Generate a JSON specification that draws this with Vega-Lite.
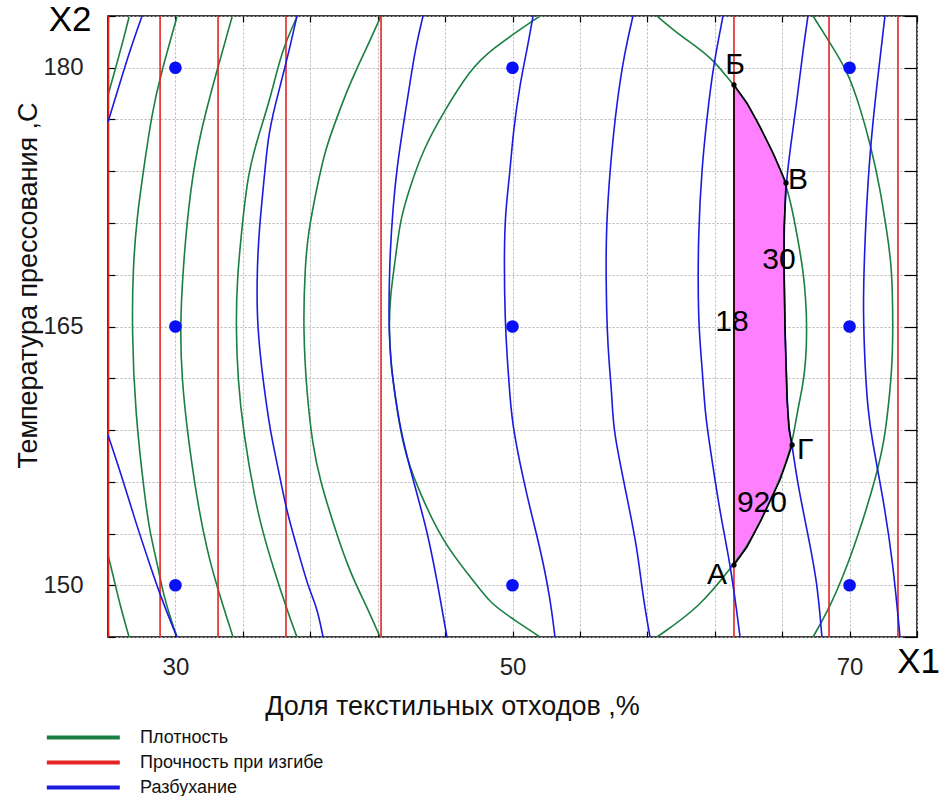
{
  "$schema": "https://vega.github.io/schema/vega-lite/v6.json",
  "width": 809,
  "height": 621,
  "autosize": {"type": "none"},
  "padding": {"left": 108, "top": 16, "right": 22, "bottom": 159},
  "config": {
    "font": "Liberation Sans",
    "view": {"stroke": "#000000", "strokeWidth": 1.5},
    "axis": {"labelFont": "Liberation Sans", "titleFont": "Liberation Sans", "labelColor": "#222222", "titleColor": "#111111", "titleFontWeight": "normal", "domain": false, "tickColor": "#000000", "tickWidth": 1.2, "gridColor": "#b5b5b5", "gridDash": [2, 2], "gridWidth": 1, "labelOverlap": false, "labelFlush": false, "labelBound": false}
  },
  "datasets": {
    "region": [
      {"y": 151.17, "xl": 63.14, "xr": 63.14},
      {"y": 152.22, "xl": 63.14, "xr": 63.91},
      {"y": 153.78, "xl": 63.14, "xr": 64.75},
      {"y": 156.10, "xl": 63.14, "xr": 65.87},
      {"y": 157.26, "xl": 63.14, "xr": 66.29},
      {"y": 158.13, "xl": 63.14, "xr": 66.59},
      {"y": 159.00, "xl": 63.14, "xr": 66.41},
      {"y": 160.74, "xl": 63.14, "xr": 66.29},
      {"y": 164.80, "xl": 63.14, "xr": 66.17},
      {"y": 168.28, "xl": 63.14, "xr": 66.11},
      {"y": 170.59, "xl": 63.14, "xr": 66.11},
      {"y": 173.32, "xl": 63.14, "xr": 66.23},
      {"y": 175.06, "xl": 63.14, "xr": 65.46},
      {"y": 176.57, "xl": 63.14, "xr": 64.69},
      {"y": 177.96, "xl": 63.14, "xr": 63.91},
      {"y": 179.00, "xl": 63.14, "xr": 63.14}
    ],
    "boundary": [
      {"i": 0, "x": 63.14, "y": 151.17},
      {"i": 1, "x": 63.91, "y": 152.22},
      {"i": 2, "x": 64.75, "y": 153.78},
      {"i": 3, "x": 65.87, "y": 156.10},
      {"i": 4, "x": 66.29, "y": 157.26},
      {"i": 5, "x": 66.59, "y": 158.13},
      {"i": 6, "x": 66.41, "y": 159.00},
      {"i": 7, "x": 66.29, "y": 160.74},
      {"i": 8, "x": 66.17, "y": 164.80},
      {"i": 9, "x": 66.11, "y": 168.28},
      {"i": 10, "x": 66.11, "y": 170.59},
      {"i": 11, "x": 66.23, "y": 173.32},
      {"i": 12, "x": 65.46, "y": 175.06},
      {"i": 13, "x": 64.69, "y": 176.57},
      {"i": 14, "x": 63.91, "y": 177.96},
      {"i": 15, "x": 63.14, "y": 179.00},
      {"i": 16, "x": 63.14, "y": 151.17}
    ],
    "vertices": [
      {"x": 63.14, "y": 151.17},
      {"x": 63.14, "y": 179.00},
      {"x": 66.23, "y": 173.32},
      {"x": 66.59, "y": 158.13}
    ],
    "dots": [
      {"x": 30, "y": 150}, {"x": 30, "y": 165}, {"x": 30, "y": 180},
      {"x": 50, "y": 150}, {"x": 50, "y": 165}, {"x": 50, "y": 180},
      {"x": 70, "y": 150}, {"x": 70, "y": 165}, {"x": 70, "y": 180}
    ],
    "labels": [
      {"t": "Б", "x": 63.2, "y": 180.16},
      {"t": "В", "x": 66.94, "y": 173.49},
      {"t": "Г", "x": 67.36, "y": 157.84},
      {"t": "А", "x": 62.13, "y": 150.59},
      {"t": "30", "x": 65.81, "y": 168.86},
      {"t": "18", "x": 63.02, "y": 165.26},
      {"t": "920", "x": 64.80, "y": 154.77}
    ],
    "axisnames": [
      {"t": "X2", "x": 23.75, "y": 182.77},
      {"t": "X1", "x": 74.1, "y": 145.55}
    ],
    "curves": [
      {"s": "Плотность", "c": "G1a", "i": 0, "x": 27.25, "y": 182.94},
      {"s": "Плотность", "c": "G1a", "i": 1, "x": 26.83, "y": 181.32},
      {"s": "Плотность", "c": "G1a", "i": 2, "x": 26.42, "y": 179.87},
      {"s": "Плотность", "c": "G1a", "i": 3, "x": 26.00, "y": 178.42},
      {"s": "Плотность", "c": "G1b", "i": 0, "x": 26.00, "y": 151.75},
      {"s": "Плотность", "c": "G1b", "i": 1, "x": 26.30, "y": 150.59},
      {"s": "Плотность", "c": "G1b", "i": 2, "x": 26.71, "y": 148.86},
      {"s": "Плотность", "c": "G1b", "i": 3, "x": 27.25, "y": 147.00},
      {"s": "Плотность", "c": "G2", "i": 0, "x": 30.09, "y": 182.94},
      {"s": "Плотность", "c": "G2", "i": 1, "x": 29.09, "y": 179.46},
      {"s": "Плотность", "c": "G2", "i": 2, "x": 28.61, "y": 177.38},
      {"s": "Плотность", "c": "G2", "i": 3, "x": 28.08, "y": 173.90},
      {"s": "Плотность", "c": "G2", "i": 4, "x": 27.72, "y": 171.35},
      {"s": "Плотность", "c": "G2", "i": 5, "x": 27.48, "y": 168.45},
      {"s": "Плотность", "c": "G2", "i": 6, "x": 27.42, "y": 164.80},
      {"s": "Плотность", "c": "G2", "i": 7, "x": 27.60, "y": 160.16},
      {"s": "Плотность", "c": "G2", "i": 8, "x": 28.20, "y": 154.94},
      {"s": "Плотность", "c": "G2", "i": 9, "x": 28.49, "y": 153.03},
      {"s": "Плотность", "c": "G2", "i": 10, "x": 28.97, "y": 151.06},
      {"s": "Плотность", "c": "G2", "i": 11, "x": 29.26, "y": 149.55},
      {"s": "Плотность", "c": "G2", "i": 12, "x": 29.80, "y": 147.81},
      {"s": "Плотность", "c": "G2", "i": 13, "x": 30.09, "y": 147.00},
      {"s": "Плотность", "c": "G3", "i": 0, "x": 33.36, "y": 182.94},
      {"s": "Плотность", "c": "G3", "i": 1, "x": 32.47, "y": 179.87},
      {"s": "Плотность", "c": "G3", "i": 2, "x": 31.46, "y": 176.22},
      {"s": "Плотность", "c": "G3", "i": 3, "x": 30.87, "y": 172.91},
      {"s": "Плотность", "c": "G3", "i": 4, "x": 30.45, "y": 168.45},
      {"s": "Плотность", "c": "G3", "i": 5, "x": 30.27, "y": 164.80},
      {"s": "Плотность", "c": "G3", "i": 6, "x": 30.39, "y": 161.90},
      {"s": "Плотность", "c": "G3", "i": 7, "x": 30.69, "y": 159.00},
      {"s": "Плотность", "c": "G3", "i": 8, "x": 31.28, "y": 154.94},
      {"s": "Плотность", "c": "G3", "i": 9, "x": 31.87, "y": 152.04},
      {"s": "Плотность", "c": "G3", "i": 10, "x": 32.47, "y": 149.90},
      {"s": "Плотность", "c": "G3", "i": 11, "x": 33.42, "y": 147.00},
      {"s": "Плотность", "c": "G4", "i": 0, "x": 37.21, "y": 182.94},
      {"s": "Плотность", "c": "G4", "i": 1, "x": 36.32, "y": 181.03},
      {"s": "Плотность", "c": "G4", "i": 2, "x": 35.61, "y": 178.13},
      {"s": "Плотность", "c": "G4", "i": 3, "x": 34.90, "y": 175.99},
      {"s": "Плотность", "c": "G4", "i": 4, "x": 34.31, "y": 173.90},
      {"s": "Плотность", "c": "G4", "i": 5, "x": 33.95, "y": 170.77},
      {"s": "Плотность", "c": "G4", "i": 6, "x": 33.65, "y": 167.70},
      {"s": "Плотность", "c": "G4", "i": 7, "x": 33.59, "y": 164.80},
      {"s": "Плотность", "c": "G4", "i": 8, "x": 33.71, "y": 161.90},
      {"s": "Плотность", "c": "G4", "i": 9, "x": 34.01, "y": 159.00},
      {"s": "Плотность", "c": "G4", "i": 10, "x": 34.72, "y": 154.94},
      {"s": "Плотность", "c": "G4", "i": 11, "x": 35.20, "y": 153.03},
      {"s": "Плотность", "c": "G4", "i": 12, "x": 35.79, "y": 151.06},
      {"s": "Плотность", "c": "G4", "i": 13, "x": 36.62, "y": 148.57},
      {"s": "Плотность", "c": "G4", "i": 14, "x": 37.21, "y": 147.00},
      {"s": "Плотность", "c": "G5", "i": 0, "x": 42.20, "y": 183.00},
      {"s": "Плотность", "c": "G5", "i": 1, "x": 41.37, "y": 181.20},
      {"s": "Плотность", "c": "G5", "i": 2, "x": 40.36, "y": 179.12},
      {"s": "Плотность", "c": "G5", "i": 3, "x": 39.59, "y": 177.14},
      {"s": "Плотность", "c": "G5", "i": 4, "x": 38.88, "y": 175.23},
      {"s": "Плотность", "c": "G5", "i": 5, "x": 38.40, "y": 173.09},
      {"s": "Плотность", "c": "G5", "i": 6, "x": 37.87, "y": 170.42},
      {"s": "Плотность", "c": "G5", "i": 7, "x": 37.69, "y": 168.45},
      {"s": "Плотность", "c": "G5", "i": 8, "x": 37.57, "y": 164.80},
      {"s": "Плотность", "c": "G5", "i": 9, "x": 37.81, "y": 160.91},
      {"s": "Плотность", "c": "G5", "i": 10, "x": 38.16, "y": 158.01},
      {"s": "Плотность", "c": "G5", "i": 11, "x": 38.58, "y": 156.10},
      {"s": "Плотность", "c": "G5", "i": 12, "x": 39.35, "y": 153.61},
      {"s": "Плотность", "c": "G5", "i": 13, "x": 40.36, "y": 150.71},
      {"s": "Плотность", "c": "G5", "i": 14, "x": 41.37, "y": 148.74},
      {"s": "Плотность", "c": "G5", "i": 15, "x": 42.14, "y": 147.00},
      {"s": "Плотность", "c": "G6L", "i": 0, "x": 51.63, "y": 183.00},
      {"s": "Плотность", "c": "G6L", "i": 2, "x": 48.67, "y": 181.03},
      {"s": "Плотность", "c": "G6L", "i": 3, "x": 47.48, "y": 179.87},
      {"s": "Плотность", "c": "G6L", "i": 4, "x": 45.88, "y": 177.38},
      {"s": "Плотность", "c": "G6L", "i": 5, "x": 44.69, "y": 175.23},
      {"s": "Плотность", "c": "G6L", "i": 6, "x": 43.92, "y": 173.09},
      {"s": "Плотность", "c": "G6L", "i": 7, "x": 43.33, "y": 171.17},
      {"s": "Плотность", "c": "G6L", "i": 8, "x": 43.07, "y": 169.03},
      {"s": "Плотность", "c": "G6L", "i": 9, "x": 42.73, "y": 166.71},
      {"s": "Плотность", "c": "G6L", "i": 10, "x": 42.67, "y": 164.80},
      {"s": "Плотность", "c": "G6L", "i": 11, "x": 42.79, "y": 162.88},
      {"s": "Плотность", "c": "G6L", "i": 12, "x": 43.03, "y": 160.91},
      {"s": "Плотность", "c": "G6L", "i": 13, "x": 43.50, "y": 158.01},
      {"s": "Плотность", "c": "G6L", "i": 14, "x": 44.33, "y": 155.70},
      {"s": "Плотность", "c": "G6L", "i": 15, "x": 45.88, "y": 152.45},
      {"s": "Плотность", "c": "G6L", "i": 16, "x": 47.66, "y": 150.30},
      {"s": "Плотность", "c": "G6L", "i": 17, "x": 48.67, "y": 148.97},
      {"s": "Плотность", "c": "G6L", "i": 18, "x": 49.85, "y": 148.16},
      {"s": "Плотность", "c": "G6L", "i": 19, "x": 51.63, "y": 147.00},
      {"s": "Плотность", "c": "G6R", "i": 0, "x": 58.57, "y": 183.00},
      {"s": "Плотность", "c": "G6R", "i": 1, "x": 59.76, "y": 182.01},
      {"s": "Плотность", "c": "G6R", "i": 2, "x": 60.95, "y": 181.20},
      {"s": "Плотность", "c": "G6R", "i": 3, "x": 61.90, "y": 180.45},
      {"s": "Плотность", "c": "G6R", "i": 4, "x": 62.73, "y": 179.46},
      {"s": "Плотность", "c": "G6R", "i": 5, "x": 63.14, "y": 179.00},
      {"s": "Плотность", "c": "G6R", "i": 6, "x": 63.91, "y": 177.96},
      {"s": "Плотность", "c": "G6R", "i": 7, "x": 64.69, "y": 176.57},
      {"s": "Плотность", "c": "G6R", "i": 8, "x": 65.46, "y": 175.06},
      {"s": "Плотность", "c": "G6R", "i": 9, "x": 66.23, "y": 173.32},
      {"s": "Плотность", "c": "G6R", "i": 10, "x": 66.64, "y": 171.58},
      {"s": "Плотность", "c": "G6R", "i": 11, "x": 66.94, "y": 170.01},
      {"s": "Плотность", "c": "G6R", "i": 12, "x": 67.24, "y": 168.28},
      {"s": "Плотность", "c": "G6R", "i": 13, "x": 67.41, "y": 166.54},
      {"s": "Плотность", "c": "G6R", "i": 14, "x": 67.47, "y": 164.80},
      {"s": "Плотность", "c": "G6R", "i": 15, "x": 67.41, "y": 163.06},
      {"s": "Плотность", "c": "G6R", "i": 16, "x": 67.24, "y": 161.61},
      {"s": "Плотность", "c": "G6R", "i": 17, "x": 66.88, "y": 159.99},
      {"s": "Плотность", "c": "G6R", "i": 18, "x": 66.59, "y": 158.13},
      {"s": "Плотность", "c": "G6R", "i": 19, "x": 65.87, "y": 156.10},
      {"s": "Плотность", "c": "G6R", "i": 20, "x": 64.75, "y": 153.78},
      {"s": "Плотность", "c": "G6R", "i": 21, "x": 63.91, "y": 152.22},
      {"s": "Плотность", "c": "G6R", "i": 22, "x": 63.08, "y": 151.17},
      {"s": "Плотность", "c": "G6R", "i": 23, "x": 61.13, "y": 148.74},
      {"s": "Плотность", "c": "G6R", "i": 24, "x": 58.57, "y": 147.00},
      {"s": "Плотность", "c": "G7", "i": 0, "x": 67.83, "y": 183.00},
      {"s": "Плотность", "c": "G7", "i": 1, "x": 68.84, "y": 181.43},
      {"s": "Плотность", "c": "G7", "i": 2, "x": 69.85, "y": 179.87},
      {"s": "Плотность", "c": "G7", "i": 3, "x": 70.62, "y": 177.72},
      {"s": "Плотность", "c": "G7", "i": 4, "x": 71.21, "y": 175.64},
      {"s": "Плотность", "c": "G7", "i": 5, "x": 71.80, "y": 173.09},
      {"s": "Плотность", "c": "G7", "i": 6, "x": 72.22, "y": 170.42},
      {"s": "Плотность", "c": "G7", "i": 7, "x": 72.52, "y": 168.45},
      {"s": "Плотность", "c": "G7", "i": 8, "x": 72.58, "y": 164.80},
      {"s": "Плотность", "c": "G7", "i": 9, "x": 72.52, "y": 162.48},
      {"s": "Плотность", "c": "G7", "i": 10, "x": 72.22, "y": 159.58},
      {"s": "Плотность", "c": "G7", "i": 11, "x": 71.98, "y": 158.01},
      {"s": "Плотность", "c": "G7", "i": 12, "x": 71.51, "y": 156.10},
      {"s": "Плотность", "c": "G7", "i": 13, "x": 70.80, "y": 153.78},
      {"s": "Плотность", "c": "G7", "i": 14, "x": 69.85, "y": 151.06},
      {"s": "Плотность", "c": "G7", "i": 15, "x": 68.84, "y": 148.74},
      {"s": "Плотность", "c": "G7", "i": 16, "x": 67.83, "y": 147.00},
      {"s": "Прочность при изгибе", "c": "R1", "i": 0, "x": 26.03, "y": 147},
      {"s": "Прочность при изгибе", "c": "R1", "i": 1, "x": 26.03, "y": 183},
      {"s": "Прочность при изгибе", "c": "R2", "i": 0, "x": 29.09, "y": 147},
      {"s": "Прочность при изгибе", "c": "R2", "i": 1, "x": 29.09, "y": 183},
      {"s": "Прочность при изгибе", "c": "R3", "i": 0, "x": 32.53, "y": 147},
      {"s": "Прочность при изгибе", "c": "R3", "i": 1, "x": 32.53, "y": 183},
      {"s": "Прочность при изгибе", "c": "R4", "i": 0, "x": 36.56, "y": 147},
      {"s": "Прочность при изгибе", "c": "R4", "i": 1, "x": 36.56, "y": 183},
      {"s": "Прочность при изгибе", "c": "R5", "i": 0, "x": 42.20, "y": 147},
      {"s": "Прочность при изгибе", "c": "R5", "i": 1, "x": 42.20, "y": 183},
      {"s": "Прочность при изгибе", "c": "R6", "i": 0, "x": 63.14, "y": 147},
      {"s": "Прочность при изгибе", "c": "R6", "i": 1, "x": 63.14, "y": 183},
      {"s": "Прочность при изгибе", "c": "R7", "i": 0, "x": 68.78, "y": 147},
      {"s": "Прочность при изгибе", "c": "R7", "i": 1, "x": 68.78, "y": 183},
      {"s": "Прочность при изгибе", "c": "R8", "i": 0, "x": 72.87, "y": 147},
      {"s": "Прочность при изгибе", "c": "R8", "i": 1, "x": 72.87, "y": 183},
      {"s": "Разбухание", "c": "B1a", "i": 0, "x": 28.02, "y": 183.00},
      {"s": "Разбухание", "c": "B1a", "i": 1, "x": 27.31, "y": 181.03},
      {"s": "Разбухание", "c": "B1a", "i": 2, "x": 26.71, "y": 179.12},
      {"s": "Разбухание", "c": "B1a", "i": 3, "x": 26.00, "y": 176.86},
      {"s": "Разбухание", "c": "B1b", "i": 0, "x": 26.00, "y": 158.71},
      {"s": "Разбухание", "c": "B1b", "i": 1, "x": 26.89, "y": 156.10},
      {"s": "Разбухание", "c": "B1b", "i": 2, "x": 27.60, "y": 153.78},
      {"s": "Разбухание", "c": "B1b", "i": 3, "x": 28.49, "y": 151.17},
      {"s": "Разбухание", "c": "B1b", "i": 4, "x": 29.20, "y": 149.14},
      {"s": "Разбухание", "c": "B1b", "i": 5, "x": 30.09, "y": 147.00},
      {"s": "Разбухание", "c": "B2", "i": 0, "x": 37.21, "y": 183.00},
      {"s": "Разбухание", "c": "B2", "i": 1, "x": 36.62, "y": 180.45},
      {"s": "Разбухание", "c": "B2", "i": 2, "x": 35.91, "y": 177.84},
      {"s": "Разбухание", "c": "B2", "i": 3, "x": 35.49, "y": 175.99},
      {"s": "Разбухание", "c": "B2", "i": 4, "x": 35.26, "y": 173.49},
      {"s": "Разбухание", "c": "B2", "i": 5, "x": 34.96, "y": 170.59},
      {"s": "Разбухание", "c": "B2", "i": 6, "x": 34.84, "y": 168.10},
      {"s": "Разбухание", "c": "B2", "i": 7, "x": 34.84, "y": 165.55},
      {"s": "Разбухание", "c": "B2", "i": 8, "x": 35.02, "y": 163.46},
      {"s": "Разбухание", "c": "B2", "i": 9, "x": 35.20, "y": 161.90},
      {"s": "Разбухание", "c": "B2", "i": 10, "x": 35.61, "y": 159.00},
      {"s": "Разбухание", "c": "B2", "i": 11, "x": 36.03, "y": 157.09},
      {"s": "Разбухание", "c": "B2", "i": 12, "x": 36.62, "y": 154.19},
      {"s": "Разбухание", "c": "B2", "i": 13, "x": 37.21, "y": 152.22},
      {"s": "Разбухание", "c": "B2", "i": 14, "x": 37.87, "y": 149.90},
      {"s": "Разбухание", "c": "B2", "i": 15, "x": 38.40, "y": 148.74},
      {"s": "Разбухание", "c": "B2", "i": 16, "x": 38.76, "y": 147.00},
      {"s": "Разбухание", "c": "B3", "i": 0, "x": 44.69, "y": 183.00},
      {"s": "Разбухание", "c": "B3", "i": 1, "x": 44.22, "y": 181.03},
      {"s": "Разбухание", "c": "B3", "i": 2, "x": 43.92, "y": 179.12},
      {"s": "Разбухание", "c": "B3", "i": 3, "x": 43.50, "y": 176.57},
      {"s": "Разбухание", "c": "B3", "i": 4, "x": 43.15, "y": 174.25},
      {"s": "Разбухание", "c": "B3", "i": 5, "x": 42.91, "y": 171.93},
      {"s": "Разбухание", "c": "B3", "i": 6, "x": 42.73, "y": 169.26},
      {"s": "Разбухание", "c": "B3", "i": 7, "x": 42.67, "y": 166.54},
      {"s": "Разбухание", "c": "B3", "i": 8, "x": 42.67, "y": 164.80},
      {"s": "Разбухание", "c": "B3", "i": 9, "x": 42.79, "y": 162.77},
      {"s": "Разбухание", "c": "B3", "i": 10, "x": 42.91, "y": 161.90},
      {"s": "Разбухание", "c": "B3", "i": 11, "x": 43.33, "y": 159.00},
      {"s": "Разбухание", "c": "B3", "i": 12, "x": 44.10, "y": 156.10},
      {"s": "Разбухание", "c": "B3", "i": 13, "x": 44.93, "y": 153.20},
      {"s": "Разбухание", "c": "B3", "i": 14, "x": 45.52, "y": 150.30},
      {"s": "Разбухание", "c": "B3", "i": 15, "x": 46.11, "y": 147.00},
      {"s": "Разбухание", "c": "B4", "i": 0, "x": 51.22, "y": 183.00},
      {"s": "Разбухание", "c": "B4", "i": 1, "x": 50.86, "y": 181.03},
      {"s": "Разбухание", "c": "B4", "i": 2, "x": 50.45, "y": 179.12},
      {"s": "Разбухание", "c": "B4", "i": 3, "x": 50.03, "y": 176.22},
      {"s": "Разбухание", "c": "B4", "i": 4, "x": 49.85, "y": 173.90},
      {"s": "Разбухание", "c": "B4", "i": 5, "x": 49.56, "y": 171.58},
      {"s": "Разбухание", "c": "B4", "i": 6, "x": 49.50, "y": 168.68},
      {"s": "Разбухание", "c": "B4", "i": 7, "x": 49.56, "y": 165.38},
      {"s": "Разбухание", "c": "B4", "i": 8, "x": 49.68, "y": 163.23},
      {"s": "Разбухание", "c": "B4", "i": 9, "x": 49.85, "y": 160.91},
      {"s": "Разбухание", "c": "B4", "i": 10, "x": 50.03, "y": 159.00},
      {"s": "Разбухание", "c": "B4", "i": 11, "x": 50.86, "y": 155.12},
      {"s": "Разбухание", "c": "B4", "i": 12, "x": 51.63, "y": 152.22},
      {"s": "Разбухание", "c": "B4", "i": 13, "x": 52.23, "y": 149.32},
      {"s": "Разбухание", "c": "B4", "i": 14, "x": 52.52, "y": 147.00},
      {"s": "Разбухание", "c": "B5", "i": 0, "x": 57.15, "y": 183.00},
      {"s": "Разбухание", "c": "B5", "i": 1, "x": 56.68, "y": 181.03},
      {"s": "Разбухание", "c": "B5", "i": 2, "x": 56.20, "y": 178.13},
      {"s": "Разбухание", "c": "B5", "i": 3, "x": 55.79, "y": 174.25},
      {"s": "Разбухание", "c": "B5", "i": 4, "x": 55.55, "y": 170.59},
      {"s": "Разбухание", "c": "B5", "i": 5, "x": 55.55, "y": 167.70},
      {"s": "Разбухание", "c": "B5", "i": 6, "x": 55.61, "y": 164.80},
      {"s": "Разбухание", "c": "B5", "i": 7, "x": 55.73, "y": 162.88},
      {"s": "Разбухание", "c": "B5", "i": 8, "x": 55.91, "y": 160.91},
      {"s": "Разбухание", "c": "B5", "i": 9, "x": 55.97, "y": 159.00},
      {"s": "Разбухание", "c": "B5", "i": 10, "x": 56.79, "y": 155.12},
      {"s": "Разбухание", "c": "B5", "i": 11, "x": 57.39, "y": 152.22},
      {"s": "Разбухание", "c": "B5", "i": 12, "x": 57.74, "y": 149.32},
      {"s": "Разбухание", "c": "B5", "i": 13, "x": 58.16, "y": 147.00},
      {"s": "Разбухание", "c": "B6", "i": 0, "x": 62.49, "y": 183.00},
      {"s": "Разбухание", "c": "B6", "i": 1, "x": 61.90, "y": 180.04},
      {"s": "Разбухание", "c": "B6", "i": 2, "x": 61.54, "y": 177.14},
      {"s": "Разбухание", "c": "B6", "i": 3, "x": 61.24, "y": 174.25},
      {"s": "Разбухание", "c": "B6", "i": 4, "x": 61.01, "y": 170.42},
      {"s": "Разбухание", "c": "B6", "i": 5, "x": 61.01, "y": 165.20},
      {"s": "Разбухание", "c": "B6", "i": 6, "x": 61.24, "y": 162.88},
      {"s": "Разбухание", "c": "B6", "i": 7, "x": 61.42, "y": 159.99},
      {"s": "Разбухание", "c": "B6", "i": 8, "x": 61.72, "y": 158.01},
      {"s": "Разбухание", "c": "B6", "i": 9, "x": 62.31, "y": 154.19},
      {"s": "Разбухание", "c": "B6", "i": 10, "x": 62.91, "y": 151.29},
      {"s": "Разбухание", "c": "B6", "i": 11, "x": 63.32, "y": 148.39},
      {"s": "Разбухание", "c": "B6", "i": 12, "x": 63.50, "y": 147.00},
      {"s": "Разбухание", "c": "B7", "i": 0, "x": 67.53, "y": 183.00},
      {"s": "Разбухание", "c": "B7", "i": 1, "x": 67.24, "y": 181.03},
      {"s": "Разбухание", "c": "B7", "i": 2, "x": 66.88, "y": 178.13},
      {"s": "Разбухание", "c": "B7", "i": 3, "x": 66.47, "y": 175.23},
      {"s": "Разбухание", "c": "B7", "i": 4, "x": 66.23, "y": 173.32},
      {"s": "Разбухание", "c": "B7", "i": 5, "x": 66.11, "y": 170.59},
      {"s": "Разбухание", "c": "B7", "i": 6, "x": 66.11, "y": 168.28},
      {"s": "Разбухание", "c": "B7", "i": 7, "x": 66.17, "y": 164.80},
      {"s": "Разбухание", "c": "B7", "i": 8, "x": 66.29, "y": 160.74},
      {"s": "Разбухание", "c": "B7", "i": 9, "x": 66.41, "y": 159.00},
      {"s": "Разбухание", "c": "B7", "i": 10, "x": 66.59, "y": 158.13},
      {"s": "Разбухание", "c": "B7", "i": 11, "x": 66.88, "y": 156.10},
      {"s": "Разбухание", "c": "B7", "i": 12, "x": 67.47, "y": 153.20},
      {"s": "Разбухание", "c": "B7", "i": 13, "x": 68.07, "y": 150.30},
      {"s": "Разбухание", "c": "B7", "i": 14, "x": 68.36, "y": 147.00},
      {"s": "Разбухание", "c": "B8", "i": 0, "x": 72.10, "y": 183.00},
      {"s": "Разбухание", "c": "B8", "i": 1, "x": 71.63, "y": 179.12},
      {"s": "Разбухание", "c": "B8", "i": 2, "x": 71.21, "y": 175.23},
      {"s": "Разбухание", "c": "B8", "i": 3, "x": 70.97, "y": 171.35},
      {"s": "Разбухание", "c": "B8", "i": 4, "x": 70.86, "y": 168.45},
      {"s": "Разбухание", "c": "B8", "i": 5, "x": 70.80, "y": 165.96},
      {"s": "Разбухание", "c": "B8", "i": 6, "x": 70.92, "y": 162.48},
      {"s": "Разбухание", "c": "B8", "i": 7, "x": 71.09, "y": 160.16},
      {"s": "Разбухание", "c": "B8", "i": 8, "x": 71.33, "y": 158.42},
      {"s": "Разбухание", "c": "B8", "i": 9, "x": 71.98, "y": 155.12},
      {"s": "Разбухание", "c": "B8", "i": 10, "x": 72.58, "y": 151.29},
      {"s": "Разбухание", "c": "B8", "i": 11, "x": 72.99, "y": 147.00}
    ]
  },
  "layer": [
    {
      "data": {"name": "region"},
      "mark": {"type": "area", "orient": "horizontal", "color": "#ff80ff", "opacity": 1},
      "encoding": {
        "y": {"field": "y", "type": "quantitative", "scale": {"domain": [147, 183], "nice": false, "zero": false},
          "axis": {"orient": "left", "values": [147, 150, 153, 156, 159, 162, 165, 168, 171, 174, 177, 180, 183], "labelExpr": "(datum.value == 150 || datum.value == 165 || datum.value == 180) ? datum.label : ''", "grid": true, "tickSize": -7, "labelPadding": 32, "labelFontSize": 24, "title": "Температура прессования ,С", "titleFontSize": 27, "titleX": -80, "titleY": 269, "titleAngle": -90, "titleAlign": "center", "titleBaseline": "middle"}},
        "x": {"field": "xr", "type": "quantitative", "scale": {"domain": [26, 74], "nice": false, "zero": false},
          "axis": {"orient": "bottom", "values": [26, 30, 34, 38, 42, 46, 50, 54, 58, 62, 66, 70, 74], "labelExpr": "(datum.value == 30 || datum.value == 50 || datum.value == 70) ? datum.label : ''", "grid": true, "tickSize": -6, "labelPadding": 24, "labelFontSize": 24, "title": "Доля текстильных отходов ,%", "titleFontSize": 27, "titleX": 344, "titleY": 69, "titleAlign": "center", "titleBaseline": "middle"}},
        "x2": {"field": "xl"}
      }
    },
    {
      "data": {"name": "curves"},
      "mark": {"type": "line", "strokeWidth": 1.6, "clip": true, "interpolate": "basis"},
      "encoding": {
        "x": {"field": "x", "type": "quantitative", "scale": {"domain": [26, 74], "nice": false, "zero": false}, "axis": null},
        "y": {"field": "y", "type": "quantitative", "scale": {"domain": [147, 183], "nice": false, "zero": false}, "axis": null},
        "color": {"field": "s", "type": "nominal",
          "scale": {"domain": ["Плотность", "Прочность при изгибе", "Разбухание"], "range": ["#1a7f42", "#e52424", "#1b1be0"]},
          "legend": {"orient": "none", "legendX": -5, "legendY": 712, "title": null, "symbolType": "M-9,0H1", "symbolSize": 213, "symbolStrokeWidth": 4, "labelFontSize": 18, "labelOffset": 18, "labelLimit": 500, "rowPadding": 6, "labelColor": "#111111", "labelFont": "Liberation Sans"}},
        "detail": {"field": "c"},
        "order": {"field": "i", "type": "quantitative"}
      }
    },
    {
      "data": {"name": "boundary"},
      "mark": {"type": "line", "color": "#000000", "strokeWidth": 1.6},
      "encoding": {
        "x": {"field": "x", "type": "quantitative", "axis": null},
        "y": {"field": "y", "type": "quantitative", "axis": null},
        "order": {"field": "i", "type": "quantitative"}
      }
    },
    {
      "data": {"name": "vertices"},
      "mark": {"type": "point", "filled": true, "color": "#000000", "size": 28, "opacity": 1},
      "encoding": {
        "x": {"field": "x", "type": "quantitative", "axis": null},
        "y": {"field": "y", "type": "quantitative", "axis": null}
      }
    },
    {
      "data": {"name": "dots"},
      "mark": {"type": "point", "filled": true, "shape": "circle", "color": "#0a10f5", "size": 160, "opacity": 1},
      "encoding": {
        "x": {"field": "x", "type": "quantitative", "scale": {"domain": [26, 74], "nice": false, "zero": false},
          "axis": {"orient": "top", "values": [26, 30, 34, 38, 42, 46, 50, 54, 58, 62, 66, 70, 74], "labels": false, "grid": false, "tickSize": -6, "title": null}},
        "y": {"field": "y", "type": "quantitative", "scale": {"domain": [147, 183], "nice": false, "zero": false},
          "axis": {"orient": "right", "values": [147, 150, 153, 156, 159, 162, 165, 168, 171, 174, 177, 180, 183], "labels": false, "grid": false, "tickSize": -13, "title": null}}
      }
    },
    {
      "data": {"name": "labels"},
      "mark": {"type": "text", "fontSize": 30, "font": "Liberation Sans", "color": "#000000", "align": "center", "baseline": "middle"},
      "encoding": {
        "x": {"field": "x", "type": "quantitative", "axis": null},
        "y": {"field": "y", "type": "quantitative", "axis": null},
        "text": {"field": "t"}
      }
    },
    {
      "data": {"name": "axisnames"},
      "mark": {"type": "text", "fontSize": 35, "font": "Liberation Sans", "color": "#000000", "align": "center", "baseline": "middle"},
      "encoding": {
        "x": {"field": "x", "type": "quantitative", "axis": null},
        "y": {"field": "y", "type": "quantitative", "axis": null},
        "text": {"field": "t"}
      }
    }
  ],
  "resolve": {"axis": {"x": "independent", "y": "independent"}}
}
